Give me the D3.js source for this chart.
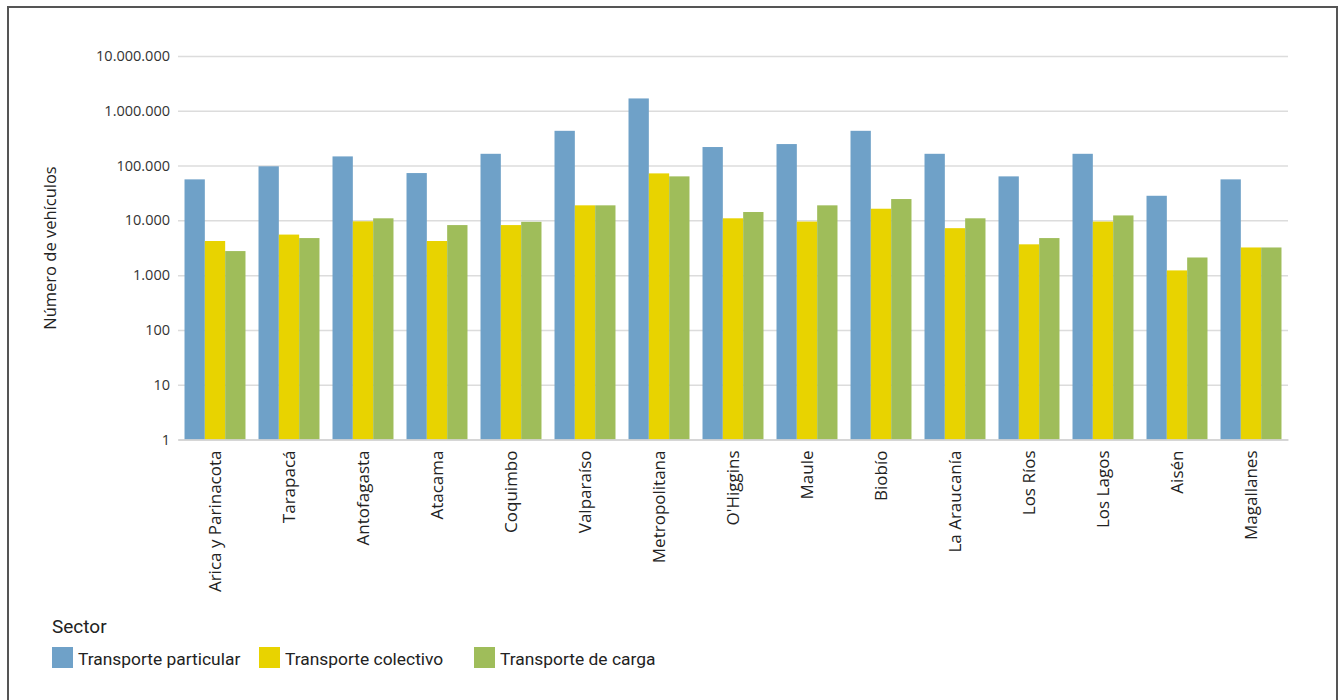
<!DOCTYPE html>
<html>
<head>
<meta charset="utf-8">
<script src="https://cdn.jsdelivr.net/npm/d3@7"></script>
<style>
  html, body { margin: 0; padding: 0; background: #fff; }
  svg { display: block; }
</style>
</head>
<body>
<svg id="chart" width="1338" height="700"></svg>
<script>
const regions = ["Arica y Parinacota", "Tarapacá", "Antofagasta", "Atacama", "Coquimbo", "Valparaíso", "Metropolitana", "O'Higgins", "Maule", "Biobío", "La Araucanía", "Los Ríos", "Los Lagos", "Aisén", "Magallanes"];
const seriesNames = ["Transporte particular", "Transporte colectivo", "Transporte de carga"];
const particular = [56000, 97000, 147000, 73000, 164000, 431000, 1680000, 218000, 247000, 431000, 164000, 63500, 164000, 28100, 56000];
const colectivo = [4200, 5500, 9600, 4200, 8200, 18800, 72000, 10900, 9500, 16300, 7200, 3650, 9500, 1220, 3200];
const carga = [2750, 4750, 10900, 8200, 9400, 18800, 63500, 14200, 18800, 24500, 10900, 4750, 12300, 2100, 3200];
const yTicks = [1, 10, 100, 1000, 10000, 100000, 1000000, 10000000];
const colors = ["#6fa1c8", "#e8d300", "#9fbd5a"];

const seriesValues = [particular, colectivo, carga];
const rows = regions.map((r, i) => ({ region: r, values: seriesValues.map(s => s[i]) }));

const svg = d3.select("#chart");

// outer frame
svg.append("rect").attr("x", 8).attr("y", 7).attr("width", 1329).attr("height", 700)
  .attr("fill", "none").attr("stroke", "#555").attr("stroke-width", 2);

const plotLeft = 178, plotRight = 1288, plotTop = 56, plotBottom = 439.5;

const x0 = d3.scaleBand().domain(regions).range([plotLeft, plotRight]).paddingInner(0.176).paddingOuter(0.088);
const x1 = d3.scaleBand().domain(d3.range(3)).range([0, x0.bandwidth()]);
const y = d3.scaleLog().domain([1, 1e7]).range([plotBottom, plotTop]);

const fmt = v => d3.format(",")(v).replace(/,/g, ".");

// gridlines + y labels
const yAxis = d3.axisLeft(y).tickValues(yTicks).tickFormat(fmt).tickSize(-(plotRight - plotLeft)).tickPadding(8);
const gy = svg.append("g").attr("transform", `translate(${plotLeft},0)`).call(yAxis);
gy.select(".domain").remove();
gy.selectAll(".tick line").attr("stroke", "#dcdcdc").attr("stroke-width", 1.5);
gy.selectAll(".tick text").attr("fill", "#333").style("font-family", "'Open Sans', sans-serif").style("font-size", "14.5px").attr("x", -8);

// bars
const groups = svg.append("g").selectAll("g").data(rows).join("g")
  .attr("transform", d => `translate(${x0(d.region)},0)`);
groups.selectAll("rect").data(d => d.values.map((v, k) => ({ v, k }))).join("rect")
  .attr("x", d => x1(d.k))
  .attr("width", x1.bandwidth())
  .attr("y", d => y(d.v))
  .attr("height", d => y(1) - y(d.v))
  .attr("fill", d => colors[d.k]);

// x axis
const xAxis = d3.axisBottom(x0).tickSize(0).tickPadding(0);
const gx = svg.append("g").attr("transform", `translate(0,${plotBottom})`).call(xAxis);
gx.select(".domain").attr("stroke", "#d0d0d0").attr("stroke-width", 1.5);
gx.selectAll(".tick text")
  .attr("transform", "rotate(-90)")
  .attr("x", -11).attr("y", 0).attr("dy", "0.35em")
  .attr("text-anchor", "end")
  .attr("fill", "#222")
  .style("font-family", "'Open Sans', sans-serif").style("font-size", "17px");

// y title
svg.append("text").attr("transform", "translate(50,248) rotate(-90)")
  .attr("text-anchor", "middle").attr("dy", "0.35em").attr("fill", "#222")
  .style("font-family", "'Open Sans', sans-serif").style("font-size", "16.5px")
  .text("Número de vehículos");

// legend
svg.append("text").attr("x", 52).attr("y", 633).attr("fill", "#222")
  .style("font-family", "Roboto, sans-serif").style("font-size", "19px").text("Sector");
const legendX = [52, 259, 474];
const lg = svg.append("g").selectAll("g").data(seriesNames).join("g")
  .attr("transform", (d, i) => `translate(${legendX[i]},647)`);
lg.append("rect").attr("width", 21).attr("height", 21).attr("fill", (d, i) => colors[i]);
lg.append("text").attr("x", 26).attr("y", 18).attr("fill", "#222")
  .style("font-family", "Roboto, sans-serif").style("font-size", "17.4px").text(d => d);
</script>
</body>
</html>
